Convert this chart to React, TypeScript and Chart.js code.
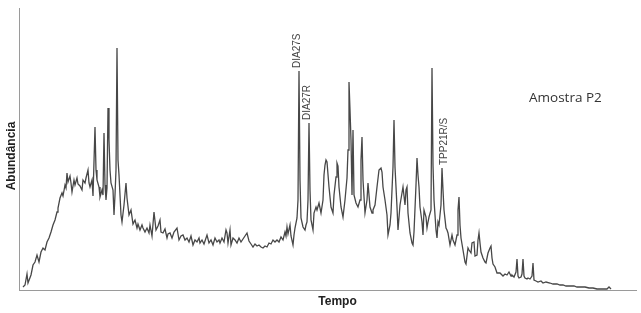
import React, { useEffect, useRef } from "react";
import { Chart, registerables } from "chart.js";

Chart.register(...registerables);

// Tempo (arbitrary units) and abundância (arbitrary units)
const tempo = [
  4, 6, 8, 9, 12, 14, 16, 18, 20, 22, 24, 26, 28, 30, 32, 34, 36, 38, 39, 41, 43, 44, 46, 47, 48, 49,
  51, 52, 53, 55, 56, 58, 59, 61, 63, 64, 66, 67, 69, 70, 71, 73, 74, 76, 77, 78, 80, 81, 83, 84, 85,
  86, 87, 88, 89, 90, 91, 92, 94, 95, 96, 97, 98, 99, 100, 101, 102, 103, 105, 107, 108, 110, 112,
  114, 116, 118, 119, 121, 123, 124, 126, 128, 130, 131, 133, 135, 137, 139, 141, 142, 144, 146, 148,
  149, 151, 153, 155, 158, 160, 162, 164, 166, 168, 170, 172, 174, 176, 178, 180, 181, 183, 185, 188,
  190, 192, 194, 196, 198, 200, 201, 203, 205, 207, 208, 209, 211, 212, 214, 216, 218, 220, 222, 224,
  226, 228, 230, 232, 234, 236, 238, 240, 242, 244, 246, 248, 250, 252, 254, 256, 258, 260, 262, 264,
  266, 267, 268, 269, 271, 272, 274, 275, 276, 278, 279, 280, 281, 282, 284, 286, 287, 288, 289, 290,
  291, 292, 294, 295, 297, 298, 300, 302, 304, 305, 306, 307, 308, 310, 312, 314, 315, 317, 318, 319,
  320, 322, 324, 326, 328, 329, 330, 331, 332, 333, 334, 335, 337, 339, 341, 342, 343, 344, 346, 348,
  349, 351, 353, 354, 356, 358, 360, 362, 363, 364, 366, 368, 369, 371, 372, 374, 375, 376, 378, 379,
  381, 383, 384, 386, 387, 388, 389, 391, 393, 394, 395, 397, 398, 399, 400, 401, 403, 404, 405, 407,
  408, 409, 410, 412, 413, 414, 415, 417, 418, 419, 420, 422, 423, 424, 425, 427, 428, 429, 431, 433,
  434, 436, 438, 439, 440, 441, 442, 444, 446, 447, 449, 450, 452, 453, 455, 456, 458, 459, 460, 461,
  462, 464, 466, 467, 469, 471, 472, 473, 474, 476, 478, 481, 484, 486, 488, 490, 492, 493, 495, 497,
  498, 499, 500, 502, 503, 504, 505, 506, 508, 509, 511, 513, 514, 515, 517, 519, 522, 524, 527, 531,
  534, 538, 541, 544, 547, 551, 555, 558, 562, 566, 570, 574, 578, 581, 585, 588, 590, 592,
];

const abundancia = [
  3, 5, 16, 7, 15, 25, 28, 35, 28, 38, 42, 40, 48, 52, 58, 65, 70, 78, 82, 92, 97, 94, 105, 102, 117, 108,
  114, 107, 98, 110, 105, 112, 106, 104, 100, 110, 107, 112, 120, 107, 103, 110, 94, 163, 120, 110, 103, 93, 100, 95, 157,
  105, 90, 102, 182, 150, 120, 107, 100, 75, 95, 120, 242, 130, 115, 95, 75, 68, 85, 107, 92, 75, 80,
  66, 70, 62, 66, 60, 65, 62, 58, 62, 57, 65, 54, 78, 60, 64, 70, 58, 57, 61, 52,
  56, 57, 52, 58, 62, 50, 54, 55, 50, 52, 48, 54, 45, 50, 48, 52, 47, 50, 46, 55,
  47, 50, 45, 52, 48, 50, 47, 52, 48, 60, 57, 47, 60, 45, 52, 50, 47, 52, 48, 51,
  54, 57, 49, 46, 43, 46, 44, 45, 43, 42, 44, 43, 47, 46, 50, 48, 50, 48, 53, 50,
  58, 54, 63, 56, 65, 54, 45, 55, 62, 72, 90, 219, 110, 72, 63, 60, 65, 68, 90, 167,
  100, 70, 60, 77, 83, 80, 87, 77, 90, 115, 125, 130, 128, 103, 83, 77, 95, 113, 127, 124,
  103, 83, 73, 90, 112, 140, 208, 180, 150, 95, 160, 95, 87, 83, 90, 130, 153, 110, 77, 90,
  107, 83, 77, 80, 85, 103, 120, 122, 118, 103, 90, 75, 55, 65, 77, 123, 170, 123, 83, 60,
  85, 97, 103, 85, 100, 103, 77, 57, 47, 45, 58, 105, 132, 115, 103, 83, 68, 55, 80, 73,
  62, 68, 73, 80, 222, 125, 90, 60, 52, 68, 65, 85, 122, 100, 80, 62, 60, 57, 45, 55,
  50, 45, 55, 80, 93, 65, 52, 40, 28, 26, 42, 40, 37, 47, 48, 34, 35, 50, 57, 47,
  38, 32, 28, 27, 37, 42, 44, 32, 26, 23, 17, 17, 14, 16, 15, 18, 14, 15, 13, 18,
  31, 14, 12, 13, 16, 31, 14, 12, 11, 12, 11, 14, 27, 10, 9, 8, 9, 7, 8, 7,
  6, 6, 5, 5, 4, 4, 4, 3, 3, 3, 2, 2, 1, 1, 1, 1, 3, 1,
];

const tempoMax = 617;
const abundanciaMax = 282;

const picoRotulos = ["DIA27S", "DIA27R", "TPP21R/S"];
const picoTempos = [280, 290, 423];

const tituloY = "Abundância";
const tituloX = "Tempo";
const amostra = "Amostra P2";

const labelShift = [-1.5, -1.5, 2];

const textPlugin = {
  id: "textos",
  afterDraw(chart: any) {
    const { ctx, chartArea, scales } = chart;
    ctx.save();
    // axis titles
    ctx.fillStyle = "#222";
    ctx.font = "bold 12px 'Liberation Sans', Arial, sans-serif";
    ctx.textAlign = "center";
    ctx.textBaseline = "middle";
    ctx.fillText(tituloX, (chartArea.left + chartArea.right) / 2 + 10, chartArea.bottom + 12);
    ctx.save();
    ctx.translate(12, (chartArea.top + chartArea.bottom) / 2 + 7);
    ctx.rotate(-Math.PI / 2);
    ctx.fillText(tituloY, 0, 0);
    ctx.restore();
    // sample label
    ctx.fillStyle = "#333";
    ctx.font = "13.5px 'Open Sans', sans-serif";
    ctx.textAlign = "left";
    ctx.fillText(amostra, 529, 98);
    // peak labels
    ctx.fillStyle = "#444";
    ctx.font = "10px 'Liberation Sans', Arial, sans-serif";
    picoRotulos.forEach((rot, i) => {
      const t = picoTempos[i];
      const idx = tempo.indexOf(t);
      const px = scales.x.getPixelForValue(t);
      const py = scales.y.getPixelForValue(abundancia[idx]);
      ctx.save();
      ctx.translate(px + labelShift[i], py - 3);
      ctx.rotate(-Math.PI / 2);
      ctx.textAlign = "left";
      ctx.textBaseline = "middle";
      ctx.fillText(rot, 0, 0);
      ctx.restore();
    });
    ctx.restore();
  },
};

export default function App() {
  const ref = useRef<HTMLCanvasElement>(null);
  useEffect(() => {
    if (!ref.current) return;
    const chart = new Chart(ref.current, {
      type: "line",
      data: {
        datasets: [
          {
            data: tempo.map((t, i) => ({ x: t, y: abundancia[i] })),
            borderColor: "#474747",
            borderWidth: 1.3,
            pointRadius: 0,
            tension: 0,
            fill: false,
          },
        ],
      },
      options: {
        animation: false,
        responsive: false,
        devicePixelRatio: 1,
        layout: { padding: { left: 19, top: 8, right: 5, bottom: 23 } },
        plugins: { legend: { display: false }, tooltip: { enabled: false } },
        scales: {
          x: {
            type: "linear",
            min: 0,
            max: tempoMax,
            ticks: { display: false },
            grid: { display: false, drawTicks: false, tickLength: 0 },
            border: { display: true, color: "#9a9a9a", width: 1 },
          },
          y: {
            type: "linear",
            min: 0,
            max: abundanciaMax,
            ticks: { display: false },
            grid: { display: false, drawTicks: false, tickLength: 0 },
            border: { display: true, color: "#9a9a9a", width: 1 },
          },
        },
      },
      plugins: [textPlugin],
    });
    return () => chart.destroy();
  }, []);
  return (
    <div style={{ position: "fixed", left: 0, top: 0, width: 641, height: 313, background: "#fff" }}>
      <canvas ref={ref} width={641} height={313} style={{ display: "block" }} />
    </div>
  );
}
